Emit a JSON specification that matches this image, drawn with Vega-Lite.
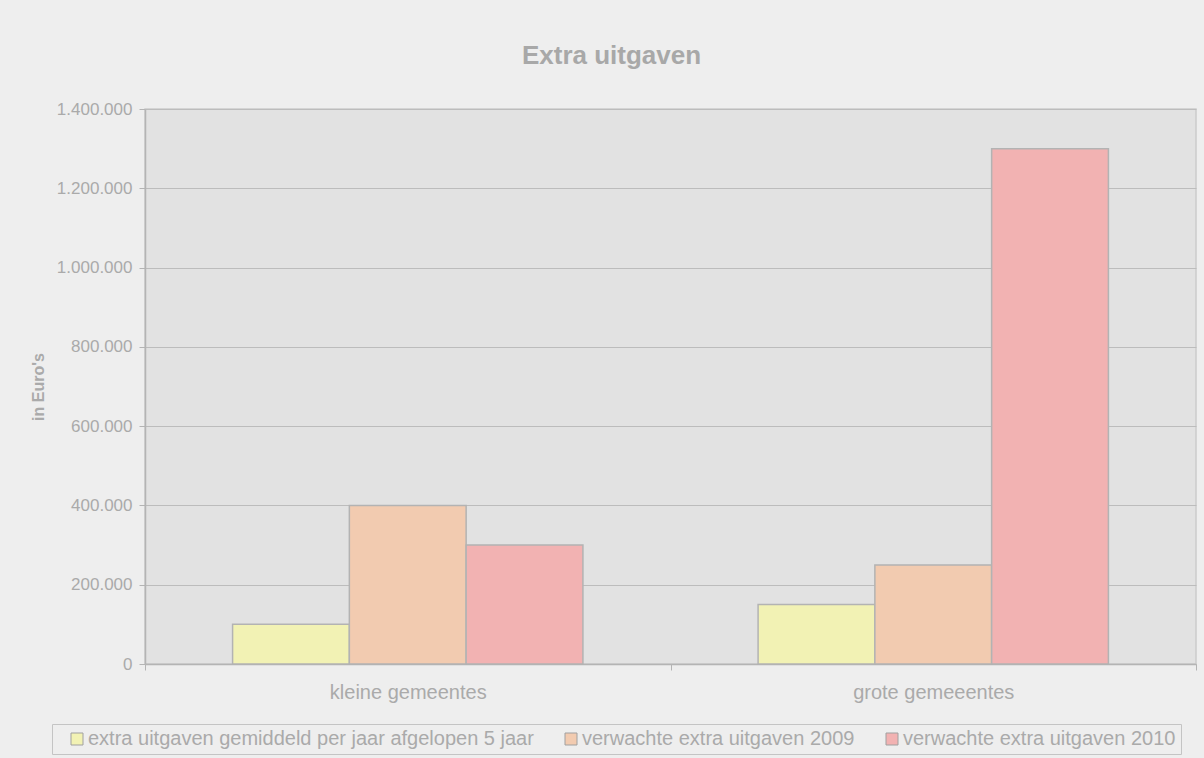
{
  "$schema": "https://vega.github.io/schema/vega-lite/v6.json",
  "width": 1051,
  "height": 555,
  "autosize": {"type": "none"},
  "padding": {"left": 145, "top": 109, "right": 8, "bottom": 94},
  "background": "#eeeeee",
  "title": {
    "text": "Extra uitgaven",
    "fontSize": 26,
    "fontWeight": "bold",
    "color": "#a8a8a8",
    "font": "Liberation Sans",
    "anchor": "middle",
    "dx": -59,
    "offset": 31
  },
  "data": {
    "values": [
      {"groep": "kleine gemeentes", "reeks": "extra uitgaven gemiddeld per jaar afgelopen 5 jaar", "waarde": 100000},
      {"groep": "kleine gemeentes", "reeks": "verwachte extra uitgaven 2009", "waarde": 400000},
      {"groep": "kleine gemeentes", "reeks": "verwachte extra uitgaven 2010", "waarde": 300000},
      {"groep": "grote gemeeentes", "reeks": "extra uitgaven gemiddeld per jaar afgelopen 5 jaar", "waarde": 150000},
      {"groep": "grote gemeeentes", "reeks": "verwachte extra uitgaven 2009", "waarde": 250000},
      {"groep": "grote gemeeentes", "reeks": "verwachte extra uitgaven 2010", "waarde": 1300000}
    ]
  },
  "mark": {"type": "bar", "stroke": "#b3b3b3", "strokeWidth": 1.5},
  "encoding": {
    "x": {
      "field": "groep",
      "type": "nominal",
      "sort": ["kleine gemeentes", "grote gemeeentes"],
      "scale": {"paddingInner": 0, "paddingOuter": 0},
      "axis": {
        "title": null,
        "labelAngle": 0,
        "labelFontSize": 20,
        "labelColor": "#aaaaaa",
        "labelPadding": 12,
        "tickBand": "extent",
        "tickSize": 6,
        "tickColor": "#b4b4b4",
        "domainColor": "#b4b4b4",
        "domainWidth": 1.5
      }
    },
    "xOffset": {
      "field": "reeks",
      "type": "nominal",
      "sort": ["extra uitgaven gemiddeld per jaar afgelopen 5 jaar", "verwachte extra uitgaven 2009", "verwachte extra uitgaven 2010"],
      "scale": {"paddingInner": 0, "paddingOuter": 0.75}
    },
    "y": {
      "field": "waarde",
      "type": "quantitative",
      "scale": {"domain": [0, 1400000], "nice": false},
      "axis": {
        "title": "in Euro's",
        "titleFontSize": 16,
        "titleFontWeight": "bold",
        "titleColor": "#aaaaaa",
        "titlePadding": 10,
        "values": [0, 200000, 400000, 600000, 800000, 1000000, 1200000, 1400000],
        "format": ",d",
        "labelFontSize": 17,
        "labelColor": "#aaaaaa",
        "labelPadding": 7,
        "tickSize": 6,
        "tickColor": "#b4b4b4",
        "domainColor": "#b4b4b4",
        "domainWidth": 1.5,
        "gridColor": "#bcbcbc",
        "gridWidth": 1
      }
    },
    "color": {
      "field": "reeks",
      "type": "nominal",
      "scale": {
        "domain": ["extra uitgaven gemiddeld per jaar afgelopen 5 jaar", "verwachte extra uitgaven 2009", "verwachte extra uitgaven 2010"],
        "range": ["#f2f2b4", "#f2cbb0", "#f2b2b2"]
      },
      "legend": {
        "title": null,
        "orient": "none",
        "direction": "horizontal",
        "legendX": -93,
        "legendY": 615,
        "symbolType": "square",
        "symbolSize": 144,
        "symbolStrokeColor": "#a0a0a0",
        "symbolStrokeWidth": 1,
        "symbolOffset": 10,
        "labelOffset": 1,
        "columnPadding": 17,
        "labelFontSize": 20,
        "labelColor": "#aaaaaa",
        "labelLimit": 600,
        "padding": 5,
        "strokeColor": "#c4c4c4",
        "fillColor": "#eeeeee"
      }
    }
  },
  "config": {
    "font": "Liberation Sans",
    "locale": {"number": {"decimal": ",", "thousands": ".", "grouping": [3], "currency": ["€", ""]}},
    "view": {"fill": "#e2e2e2", "stroke": "#cccccc", "strokeWidth": 1.5}
  }
}
